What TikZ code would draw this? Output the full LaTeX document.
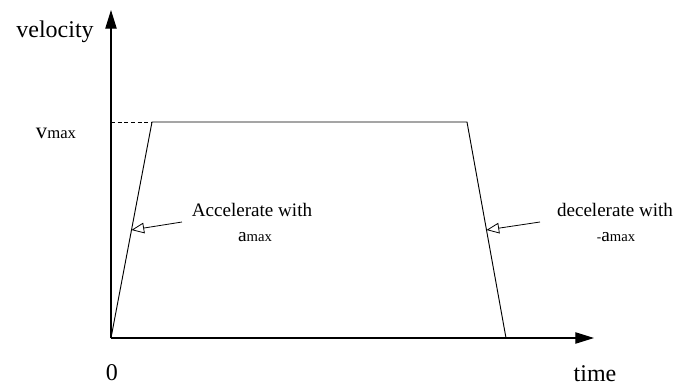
\documentclass[tikz,border=0pt]{standalone}
\usepackage{fontspec}
\setmainfont{Liberation Serif}
\usetikzlibrary{positioning,calc,arrows.meta}

\newcommand{\withmax}[1]{{\fontsize{14.5}{14.5}\selectfont #1}{\fontsize{11}{11}\selectfont max}}
\newcommand{\bigmax}[1]{{\fontsize{17}{17}\selectfont #1}{\fontsize{12.5}{12.5}\selectfont max}}

\tikzset{
    axis/.style={line width=0.9pt, -{Triangle[length=14pt,width=8.5pt]}},
    profile/.style={line width=0.7pt},
    note/.style={font=\fontsize{14.3}{14.3}\selectfont, inner sep=0pt},
    pointer/.style={line width=0.6pt, -{Triangle[open,length=9.5pt,width=8pt]}},
    big/.style={font=\fontsize{18}{18}\selectfont, inner sep=0pt}
}

\begin{document}
\begin{tikzpicture}[x=7.5pt,y=7.5pt]
    \useasboundingbox (-11.1,-4.9) rectangle (56.4,33.8);

    % axes
    \coordinate (O) at (0,0);
    \coordinate (yend) at (0,32.8);
    \coordinate (xend) at (48.3,0);
    \draw[axis] (O) -- (yend);
    \draw[axis] (O) -- (xend);

    % velocity profile
    \coordinate (rise) at (4.1,21.6);
    \coordinate (hold) at (35.6,21.6);
    \coordinate (stop) at (39.5,0);
    \coordinate (vtick) at (0,21.6);
    \draw[profile] (O) -- (rise) -- (hold) -- (stop);
    \draw[line width=0.6pt, dash pattern=on 3pt off 2pt] (vtick) -- (rise);

    % labels
    \node[big] (vel) at (-5.6,30.6) {velocity};
    \node[inner sep=0pt] (vmax) at (-5.5,20.5) {\bigmax{v}};
    \node[big] (zero) at (0.1,-3.5) {0};
    \node[big] (time) at (48.4,-3.6) {time};

    % accelerate
    \node[note] (acc) at (14.1,12.8) {Accelerate with};
    \node[inner sep=0pt] (accmax) at (14.4,10.1) {\withmax{a}};
    \coordinate (acctail) at (7.1,11.6);
    \coordinate (acctip) at ($(O)!0.5!(rise)$);
    \draw[pointer] (acctail) -- (acctip);

    % decelerate
    \node[note] (dec) at (50.4,12.8) {decelerate with};
    \node[inner sep=0pt] (decmax) at (50.5,10.1) {-\withmax{a}};
    \coordinate (dectail) at (42.9,11.6);
    \coordinate (dectip) at ($(hold)!0.5!(stop)$);
    \draw[pointer] (dectail) -- (dectip);
\end{tikzpicture}
\end{document}
